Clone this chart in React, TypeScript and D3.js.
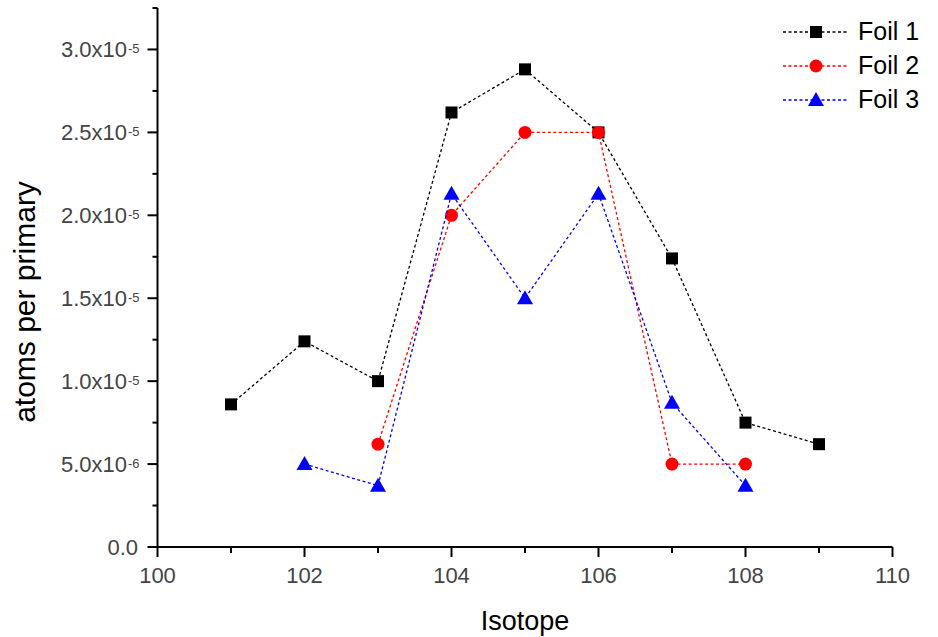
import React from "react";
import * as d3 from "d3";

const isotopes1 = [101, 102, 103, 104, 105, 106, 107, 108, 109];
const foil1 = [8.6e-6, 1.24e-5, 1.0e-5, 2.62e-5, 2.88e-5, 2.5e-5, 1.74e-5, 7.5e-6, 6.2e-6];
const isotopes2 = [103, 104, 105, 106, 107, 108];
const foil2 = [6.2e-6, 2.0e-5, 2.5e-5, 2.5e-5, 5.0e-6, 5.0e-6];
const isotopes3 = [102, 103, 104, 105, 106, 107, 108];
const foil3 = [5.0e-6, 3.7e-6, 2.13e-5, 1.5e-5, 2.13e-5, 8.7e-6, 3.7e-6];

const xMajorTicks = [100, 102, 104, 106, 108, 110];
const xMinorTicks = [101, 103, 105, 107, 109];
const yMajorTicks = [0, 5e-6, 1e-5, 1.5e-5, 2e-5, 2.5e-5, 3e-5];
const yTickMantissa = ["0.0", "5.0x10", "1.0x10", "1.5x10", "2.0x10", "2.5x10", "3.0x10"];
const yTickExponent = ["", "-6", "-5", "-5", "-5", "-5", "-5"];
const yMinorTicks = [2.5e-6, 7.5e-6, 1.25e-5, 1.75e-5, 2.25e-5, 2.75e-5, 3.25e-5];

const seriesNames = ["Foil 1", "Foil 2", "Foil 3"];
const seriesColors = ["#000000", "#ff0000", "#0000ff"];
const seriesShapes = ["square", "circle", "triangle"];

const FONT = "'Liberation Sans', Arial, Helvetica, sans-serif";

function Marker({ shape, x, y, color }: { shape: string; x: number; y: number; color: string }) {
  if (shape === "square") {
    return <rect x={x - 6} y={y - 6} width={12} height={12} fill={color} />;
  }
  if (shape === "circle") {
    return <circle cx={x} cy={y} r={6.5} fill={color} />;
  }
  return <path d={`M${x},${y - 8} L${x + 8},${y + 6} L${x - 8},${y + 6} Z`} fill={color} />;
}

export default function App() {
  const width = 938;
  const height = 637;
  const x = d3.scaleLinear().domain([100, 110]).range([157.5, 892.5]);
  const y = d3.scaleLinear().domain([0, 3.25e-5]).range([547, 8]);

  const series = [
    { xs: isotopes1, ys: foil1 },
    { xs: isotopes2, ys: foil2 },
    { xs: isotopes3, ys: foil3 },
  ];

  const line = d3
    .line<[number, number]>()
    .x((d) => x(d[0]))
    .y((d) => y(d[1]));

  const legendY = [32, 66, 100];

  return (
    <svg
      width={width}
      height={height}
      style={{ position: "absolute", left: 0, top: 0, background: "#fff" }}
      fontFamily={FONT}
    >
      <rect width={width} height={height} fill="#fff" />

      {/* series lines and markers */}
      {series.map((s, i) => {
        const pts: [number, number][] = s.xs.map((v, j) => [v, s.ys[j]]);
        return (
          <g key={i}>
            <path
              d={line(pts) || ""}
              fill="none"
              stroke={seriesColors[i]}
              strokeWidth={1.3}
              strokeDasharray="3,2.5"
            />
            {pts.map((p, j) => (
              <Marker key={j} shape={seriesShapes[i]} x={x(p[0])} y={y(p[1])} color={seriesColors[i]} />
            ))}
          </g>
        );
      })}

      {/* axes */}
      <line x1={x(100)} x2={x(110)} y1={y(0)} y2={y(0)} stroke="#000" strokeWidth={2} />
      <line x1={x(100)} x2={x(100)} y1={y(0) + 1} y2={y(3.25e-5)} stroke="#000" strokeWidth={2} />

      {xMajorTicks.map((t) => (
        <g key={`xm${t}`}>
          <line x1={x(t)} x2={x(t)} y1={y(0)} y2={y(0) + 10} stroke="#000" strokeWidth={2} />
          <text x={x(t)} y={583} textAnchor="middle" fontSize={22} fill="#444">
            {t}
          </text>
        </g>
      ))}
      {xMinorTicks.map((t) => (
        <line key={`xn${t}`} x1={x(t)} x2={x(t)} y1={y(0)} y2={y(0) + 6} stroke="#000" strokeWidth={2} />
      ))}

      {yMajorTicks.map((t, i) => (
        <g key={`ym${t}`}>
          <line x1={x(100) - 10} x2={x(100)} y1={y(t)} y2={y(t)} stroke="#000" strokeWidth={2} />
          {yTickExponent[i] ? (
            <text x={127} y={y(t) + 8} textAnchor="end" fontSize={22} fill="#444">
              {yTickMantissa[i]}
            </text>
          ) : (
            <text x={138} y={y(t) + 8} textAnchor="end" fontSize={22} fill="#444">
              {yTickMantissa[i]}
            </text>
          )}
          {yTickExponent[i] && (
            <text x={128} y={y(t) + 4} textAnchor="start" fontSize={13} fill="#444">
              {yTickExponent[i]}
            </text>
          )}
        </g>
      ))}
      {yMinorTicks.map((t) => (
        <line key={`yn${t}`} x1={x(100) - 5} x2={x(100)} y1={y(t)} y2={y(t)} stroke="#000" strokeWidth={2} />
      ))}

      {/* axis titles */}
      <text x={525} y={630} textAnchor="middle" fontSize={27} fill="#000">
        Isotope
      </text>
      <text
        transform={`translate(35, 302) rotate(-90)`}
        textAnchor="middle"
        fontSize={30}
        fill="#000"
      >
        atoms per primary
      </text>

      {/* legend */}
      {seriesNames.map((name, i) => (
        <g key={name}>
          <line
            x1={783}
            x2={848}
            y1={legendY[i]}
            y2={legendY[i]}
            stroke={seriesColors[i]}
            strokeWidth={1.3}
            strokeDasharray="3,2.5"
          />
          <Marker shape={seriesShapes[i]} x={816} y={legendY[i]} color={seriesColors[i]} />
          <text x={858} y={legendY[i] + 8} fontSize={25} fill="#000">
            {name}
          </text>
        </g>
      ))}
    </svg>
  );
}
